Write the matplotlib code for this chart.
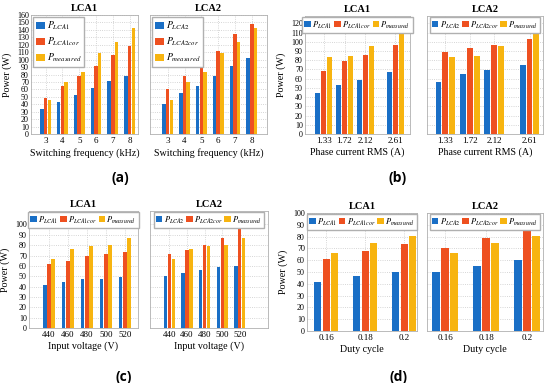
import numpy as np
import matplotlib
matplotlib.use("Agg")
import matplotlib.pyplot as plt

# ---- data ----
freq = ["3", "4", "5", "6", "7", "8"]
a_lca1 = [33, 43.5, 52.5, 62, 71, 78]
a_lca1_cor = [48, 64.5, 78, 92, 106, 118]
a_lca2 = [40, 55.5, 64.5, 78, 92, 102]
a_lca2_cor = [61, 78, 93, 111, 134, 148]
a_meas = [46, 70, 84, 108.5, 124, 142.5]

current = ["1.33", "1.72", "2.12", "2.61"]
b_lca1 = [45, 53, 59, 67]
b_lca1_cor = [68, 79, 86, 97]
b_lca2 = [56, 65.5, 69, 75]
b_lca2_cor = [89, 93, 96.5, 103.5]
b_meas = [83.5, 85, 95, 111.5]

voltage = ["440", "460", "480", "500", "520"]
c_lca1 = [42, 44.5, 47, 47.7, 49]
c_lca1_cor = [62, 65, 70, 71.3, 73.5]
c_lca2 = [50, 53.5, 56.5, 58.7, 59.4]
c_lca2_cor = [71, 75.5, 80.6, 86.8, 95.5]
c_meas = [67, 76, 79, 80.5, 86.5]

duty = ["0.16", "0.18", "0.2"]
d_lca1 = [41.5, 46.3, 50]
d_lca1_cor = [60.7, 67.5, 73.4]
d_lca2 = [49.7, 55.4, 60.5]
d_lca2_cor = [70.3, 78.5, 85.3]
d_meas = [66, 74.6, 80.8]

BLUE, ORANGE, YELLOW = "#1a6fc6", "#ee5020", "#f7b410"

plt.rcParams["font.family"] = "serif"
plt.rcParams["font.serif"] = ["Liberation Serif", "DejaVu Serif"]
plt.rcParams["mathtext.fontset"] = "stix"

fig = plt.figure(figsize=(5.5, 3.83), dpi=100)
W, H = 550.0, 383.0


def add_ax(x0, x1, y0, y1):
    ax = fig.add_axes([x0 / W, 1 - y1 / H, (x1 - x0) / W, (y1 - y0) / H])
    ax._wpx = x1 - x0
    return ax


def panel(ax, cats, pos, s1, s2, meas, name, xlabel, xlim, ylim, yticks,
          bw, off, legend_vertical, show_y):
    pos = np.asarray(pos, dtype=float)
    ax.bar(pos - off, s1, bw, color=BLUE, label=rf"$P_{{{name}}}$", zorder=3)
    ax.bar(pos, s2, bw, color=ORANGE, label=rf"$P_{{{name}cor}}$", zorder=3)
    ax.bar(pos + off, meas, bw, color=YELLOW, label=r"$P_{measured}$", zorder=3)
    ax.set_xticks(pos, cats)
    ax.set_xlim(*xlim)
    ax.set_ylim(*ylim)
    ax.set_yticks(yticks)
    ax.grid(True, ls=":", lw=0.6, color="#c8c8c8", zorder=0)
    ax.tick_params(length=0, pad=2)
    ax.tick_params(axis="x", labelsize=6.5)
    ax.tick_params(axis="y", labelsize=5.8, pad=1.5)
    for sp in ax.spines.values():
        sp.set_color("#b0b0b0")
        sp.set_linewidth(0.6)
    if not show_y:
        ax.tick_params(labelleft=False)
    else:
        ax.set_ylabel("Power (W)", fontsize=7.2)
        ax.yaxis.set_label_coords(-19.0 / ax._wpx, 0.5)
    ax.set_xlabel(xlabel, fontsize=7.2, labelpad=2)
    ax.set_title(name, fontsize=7.5, fontweight="bold", pad=3)
    if legend_vertical:
        ax.legend(loc="upper left", fontsize=7, handlelength=0.9, handleheight=0.7,
                  handletextpad=0.2, labelspacing=0.35, borderpad=0.3,
                  borderaxespad=0.2, fancybox=False, edgecolor="#b0b0b0",
                  framealpha=1)
    else:
        ax.legend(loc="upper center", ncol=3, fontsize=6, handlelength=0.8,
                  handleheight=0.7, handletextpad=0.15, columnspacing=0.2,
                  borderpad=0.25, borderaxespad=0.15, fancybox=False,
                  edgecolor="#b0b0b0", framealpha=1)


# (a) switching frequency
pa = range(len(freq))
yt_a = range(0, 161, 10)
panel(add_ax(31, 138, 15, 134), freq, pa, a_lca1, a_lca1_cor, a_meas, "LCA1",
      "Switching frequency (kHz)", (-0.87, 5.5), (0, 160), yt_a, 0.21, 0.22, True, True)
panel(add_ax(150, 267, 15, 134), freq, pa, a_lca2, a_lca2_cor, a_meas, "LCA2",
      "Switching frequency (kHz)", (-1.05, 5.9), (0, 160), yt_a, 0.21, 0.22, True, False)

# (b) phase current RMS
pb = [0, 1, 2, 3.45]
yt_b = range(0, 121, 10)
panel(add_ax(305, 410, 16, 134), current, pb, b_lca1, b_lca1_cor, b_meas, "LCA1",
      "Phase current RMS (A)", (-0.9, 4.15), (0, 128), yt_b, 0.24, 0.28, False, True)
panel(add_ax(427, 543, 16, 134), current, pb, b_lca2, b_lca2_cor, b_meas, "LCA2",
      "Phase current RMS (A)", (-0.75, 4.0), (0, 128), yt_b, 0.24, 0.28, False, False)

# (c) input voltage
pc = range(len(voltage))
yt_c = range(0, 101, 10)
panel(add_ax(29, 138, 211, 328), voltage, pc, c_lca1, c_lca1_cor, c_meas, "LCA1",
      "Input voltage (V)", (-1.05, 4.7), (0, 113), yt_c, 0.19, 0.22, False, True)
panel(add_ax(150, 268, 211, 328), voltage, pc, c_lca2, c_lca2_cor, c_meas, "LCA2",
      "Input voltage (V)", (-1.1, 5.6), (0, 113), yt_c, 0.19, 0.22, False, False)

# (d) duty cycle
pd_ = range(len(duty))
yt_d = range(0, 101, 10)
panel(add_ax(307, 417, 213, 331), duty, pd_, d_lca1, d_lca1_cor, d_meas, "LCA1",
      "Duty cycle", (-0.49, 2.33), (0, 100), yt_d, 0.18, 0.22, False, True)
panel(add_ax(427, 543, 213, 331), duty, pd_, d_lca2, d_lca2_cor, d_meas, "LCA2",
      "Duty cycle", (-0.44, 2.39), (0, 100), yt_d, 0.18, 0.22, False, False)

for lab, x, y in [("(a)", 120, 178), ("(b)", 398, 178), ("(c)", 124, 377), ("(d)", 398, 377)]:
    fig.text(x / W, 1 - y / H, lab, fontsize=10, fontweight="bold",
             family="Open Sans", ha="center", va="center")

fig.savefig("out.png", dpi=100)
